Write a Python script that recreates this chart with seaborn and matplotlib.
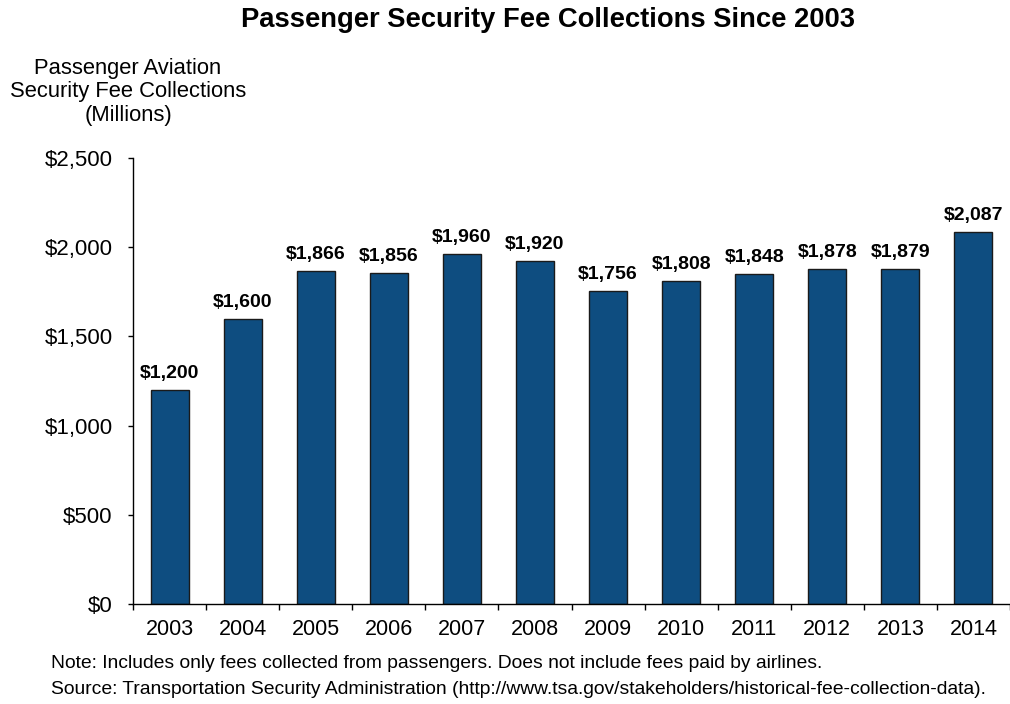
import matplotlib.pyplot as plt
import pandas as pd
import seaborn as sns

# Data (millions of dollars)
years = ['2003', '2004', '2005', '2006', '2007', '2008',
         '2009', '2010', '2011', '2012', '2013', '2014']
collections = [1200, 1600, 1866, 1856, 1960, 1920,
               1756, 1808, 1848, 1878, 1879, 2087]
y_ticks = [0, 500, 1000, 1500, 2000, 2500]

df = pd.DataFrame({'year': years, 'value': collections})

sns.set_style('white')
plt.rcParams['font.family'] = ['Liberation Sans', 'DejaVu Sans']
plt.rcParams['text.color'] = 'black'
plt.rcParams['xtick.color'] = 'black'
plt.rcParams['ytick.color'] = 'black'

fig = plt.figure(figsize=(10.1, 7.04), dpi=100)
ax = fig.add_axes([133 / 1010, 100 / 704, 877 / 1010, 446 / 704])

bar_color = '#0e4d80'
sns.barplot(x='year', y='value', data=df, color=bar_color, width=0.52,
            edgecolor='#1a1a1a', linewidth=1, saturation=1, ax=ax)

# Value labels
for i, v in enumerate(collections):
    ax.text(i, v + 45, f'${v:,}', ha='center', va='bottom',
            fontsize=14, fontweight='bold', color='black')

ax.set_ylim(0, 2500)
ax.set_xlim(-0.5, 11.4)
ax.set_yticks(y_ticks)
ax.set_yticklabels([f'${t:,}' for t in y_ticks], fontsize=16)
ax.tick_params(axis='x', labelsize=15.5, length=0, pad=11)
ax.tick_params(axis='y', left=True, length=3.6, width=1, pad=11)

# Ticks between categories on the x axis
ax.set_xticks([i + 0.5 for i in range(-1, 12)], minor=True)
ax.tick_params(axis='x', which='minor', bottom=True, length=4, width=1,
               direction='out')

ax.set_xlabel('')
ax.set_ylabel('')
for side in ['top', 'right']:
    ax.spines[side].set_visible(False)
for side in ['left', 'bottom']:
    ax.spines[side].set_color('black')
    ax.spines[side].set_linewidth(1)

# Title and axis caption
fig.text(548 / 1010, 1 - 20 / 704, 'Passenger Security Fee Collections Since 2003',
         ha='center', va='center', fontsize=19.7, fontweight='bold')
fig.text(128 / 1010, 1 - 92 / 704,
         'Passenger Aviation\nSecurity Fee Collections\n(Millions)',
         ha='center', va='center', fontsize=15.8, linespacing=1.15)

# Footnotes
fig.text(51 / 1010, 1 - 664 / 704,
         'Note: Includes only fees collected from passengers. Does not include fees paid by airlines.',
         ha='left', va='center', fontsize=13.85)
fig.text(51 / 1010, 1 - 690 / 704,
         'Source: Transportation Security Administration (http://www.tsa.gov/stakeholders/historical-fee-collection-data).',
         ha='left', va='center', fontsize=13.85)

fig.savefig('out.png', dpi=100)
